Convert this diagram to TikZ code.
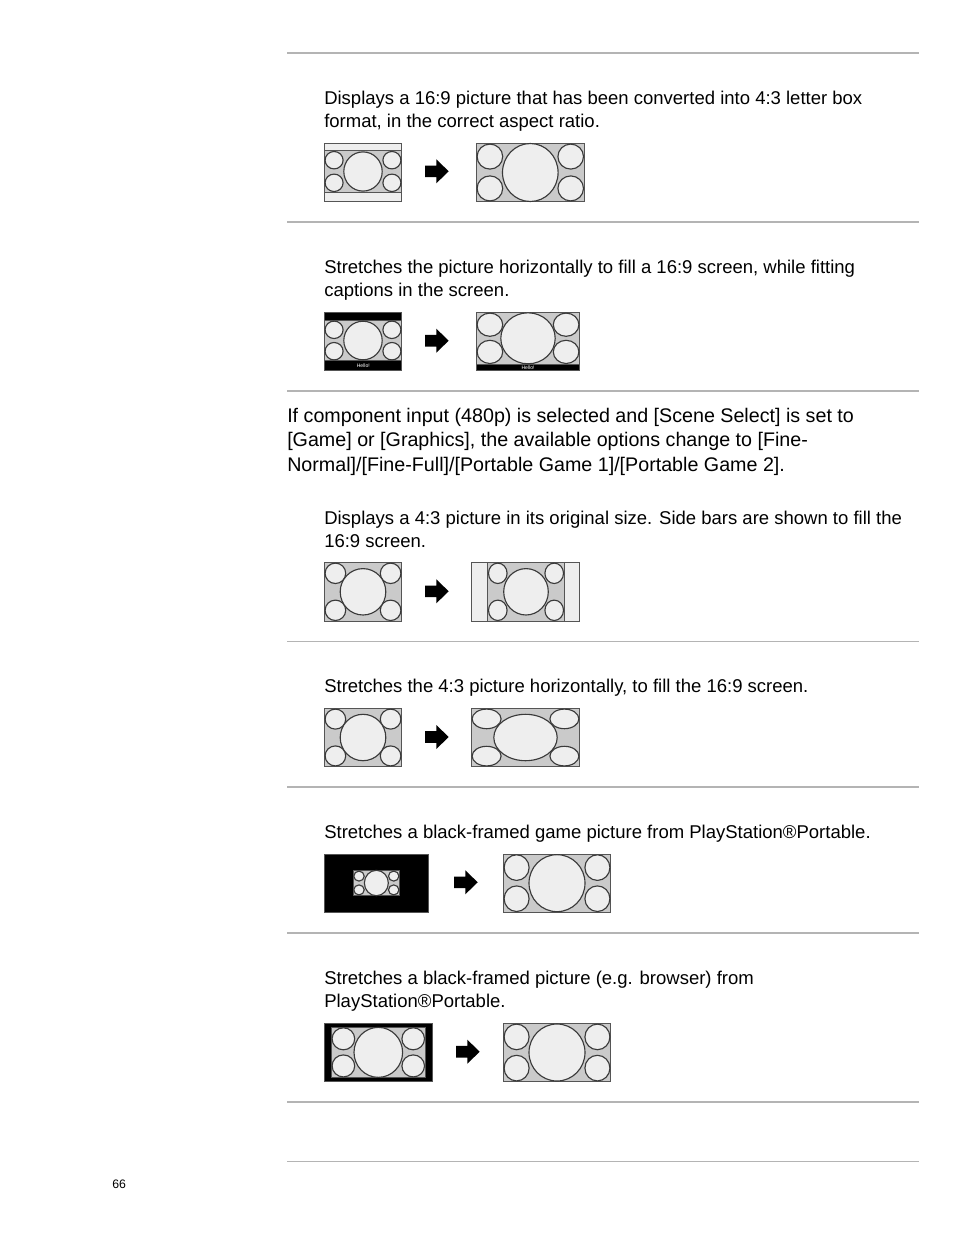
\documentclass[tikz,border=0pt]{standalone}
\usepackage{fontspec}
\setmainfont{Liberation Sans}
\definecolor{tvgrey}{HTML}{CACACA}
\definecolor{tvlight}{HTML}{EEEEEE}
\definecolor{tvline}{HTML}{3A3A3A}
\definecolor{tvedge}{HTML}{555555}
\definecolor{rulegrey}{HTML}{B4B4B4}
\tikzset{
  tvframe/.style={draw=tvedge,fill=tvgrey,line width=0.7pt},
  tvbar/.style={draw=tvedge,fill=tvlight,line width=0.7pt},
  tvblack/.style={draw=tvedge,fill=black,line width=0.5pt},
  tvcircle/.style={draw=tvline,fill=tvlight,line width=0.85pt},
  bodytext/.style={anchor=north west,inner sep=0pt,align=left,font=\fontsize{13.88}{17.25}\selectfont},
  bigtext/.style={anchor=north west,inner sep=0pt,align=left,font=\fontsize{14.76}{18.4}\selectfont},
  hellotext/.style={inner sep=0pt,text=white,font=\fontsize{3.8}{4}\selectfont}
}
% x1 y1 x2 y2, big radii, small radii
\newcommand\tvpic[8]{
  \draw[tvframe] (#1,#2) rectangle (#3,#4);
  \draw[tvcircle] ({#1+#7+.8},{#2+#8+.8}) ellipse [x radius=#7,y radius=#8]
    ({#3-#7-.8},{#2+#8+.8}) ellipse [x radius=#7,y radius=#8]
    ({#1+#7+.8},{#4-#8-.8}) ellipse [x radius=#7,y radius=#8]
    ({#3-#7-.8},{#4-#8-.8}) ellipse [x radius=#7,y radius=#8];
  \draw[tvcircle] ({(#1+#3)/2},{(#2+#4)/2}) ellipse [x radius=#5,y radius=#6];
}
\begin{document}
\begin{tikzpicture}[x=0.75pt,y=-0.75pt]
  \useasboundingbox (0,0) rectangle (954,1235);

  \foreach \ry in {53,222,391,787,933,1102}
    \draw[rulegrey,line width=1.1pt] (287,\ry) -- (919,\ry);
  \foreach \ry in {641,1161}
    \draw[rulegrey,line width=0.6pt] (287,\ry) -- (919,\ry);

  \foreach \ax/\ay in {425/171.3,425/340.7,425/591.3,425/737,454/882.3,456/1051.7}
    \fill[black] (\ax,{\ay-5.8}) -- ({\ax+11.3},{\ay-5.8}) -- ({\ax+11.3},{\ay-12}) -- ({\ax+23.7},\ay)
      -- ({\ax+11.3},{\ay+12}) -- ({\ax+11.3},{\ay+5.8}) -- (\ax,{\ay+5.8}) -- cycle;

  \node[bodytext] (letterbox) at (324,91) {Displays a 16:9 picture that has been converted into 4:3 letter box\\format, in the correct aspect ratio.};
  \draw[tvbar] (324.3,143.3) rectangle (401.7,201.7);
  \tvpic{324.3}{150.7}{401.7}{192.3}{19.2}{19.6}{9}{8.7}
  \tvpic{476.3}{143.3}{584.3}{201.7}{27.8}{29}{12.8}{12.5}

  \node[bodytext] (captions) at (324,260) {Stretches the picture horizontally to fill a 16:9 screen, while fitting\\captions in the screen.};
  \draw[tvblack] (324.3,312.3) rectangle (401.7,370.7);
  \tvpic{324.3}{320.3}{401.7}{360.7}{19.2}{19.3}{9}{8.7}
  \node[hellotext] (hello1) at (363.3,365.7) {Hello!};
  \draw[tvblack] (476.3,312.3) rectangle (579.7,370.7);
  \tvpic{476.3}{312.3}{579.7}{364.3}{27.2}{25.5}{12.8}{11.6}
  \node[hellotext] (hello2) at (528,367.7) {Hello!};

  \node[bigtext] (component) at (287,407.5) {If component input (480p) is selected and [Scene Select] is set to\\{}[Game] or [Graphics], the available options change to [Fine-\\Normal]/[Fine-Full]/[Portable Game 1]/[Portable Game 2].};

  \node[bodytext] (normal) at (324,511) {Displays a 4:3 picture in its original size. Side bars are shown to fill the\\16:9 screen.};
  \tvpic{324.3}{562.3}{401.7}{621.3}{22.8}{23.2}{10.3}{10.2}
  \draw[tvbar] (471.3,562.3) rectangle (579.7,621.3);
  \tvpic{487.7}{562.3}{564.3}{621.3}{22.3}{23.2}{9.3}{10.2}

  \node[bodytext] (full) at (324,679) {Stretches the 4:3 picture horizontally, to fill the 16:9 screen.};
  \tvpic{324.3}{708.3}{401.7}{766.7}{22.8}{23.2}{10.3}{10}
  \tvpic{471.3}{708.3}{579.7}{766.7}{31.7}{23.2}{14.5}{9.8}

  \node[bodytext] (game1) at (324,825) {Stretches a black-framed game picture from PlayStation®Portable.};
  \draw[tvblack] (324,854) rectangle (428.7,912.3);
  \tvpic{353}{870.3}{399.7}{895.7}{12}{12.7}{5.2}{5}
  \tvpic{503.3}{854}{610.7}{912.3}{28}{28.5}{12.5}{12.8}

  \node[bodytext] (game2) at (324,971) {Stretches a black-framed picture (e.g. browser) from\\PlayStation®Portable.};
  \draw[tvblack] (324,1023.3) rectangle (432.3,1081.7);
  \tvpic{331.3}{1027}{425.3}{1077.7}{24.3}{25}{11.3}{11}
  \tvpic{503.3}{1023.3}{610.7}{1081.7}{28}{28.5}{12.5}{12.8}

  \node[inner sep=0pt,anchor=west,font=\fontsize{9.2}{11}\selectfont] (pagenum) at (112,1184.5) {66};
\end{tikzpicture}
\end{document}
